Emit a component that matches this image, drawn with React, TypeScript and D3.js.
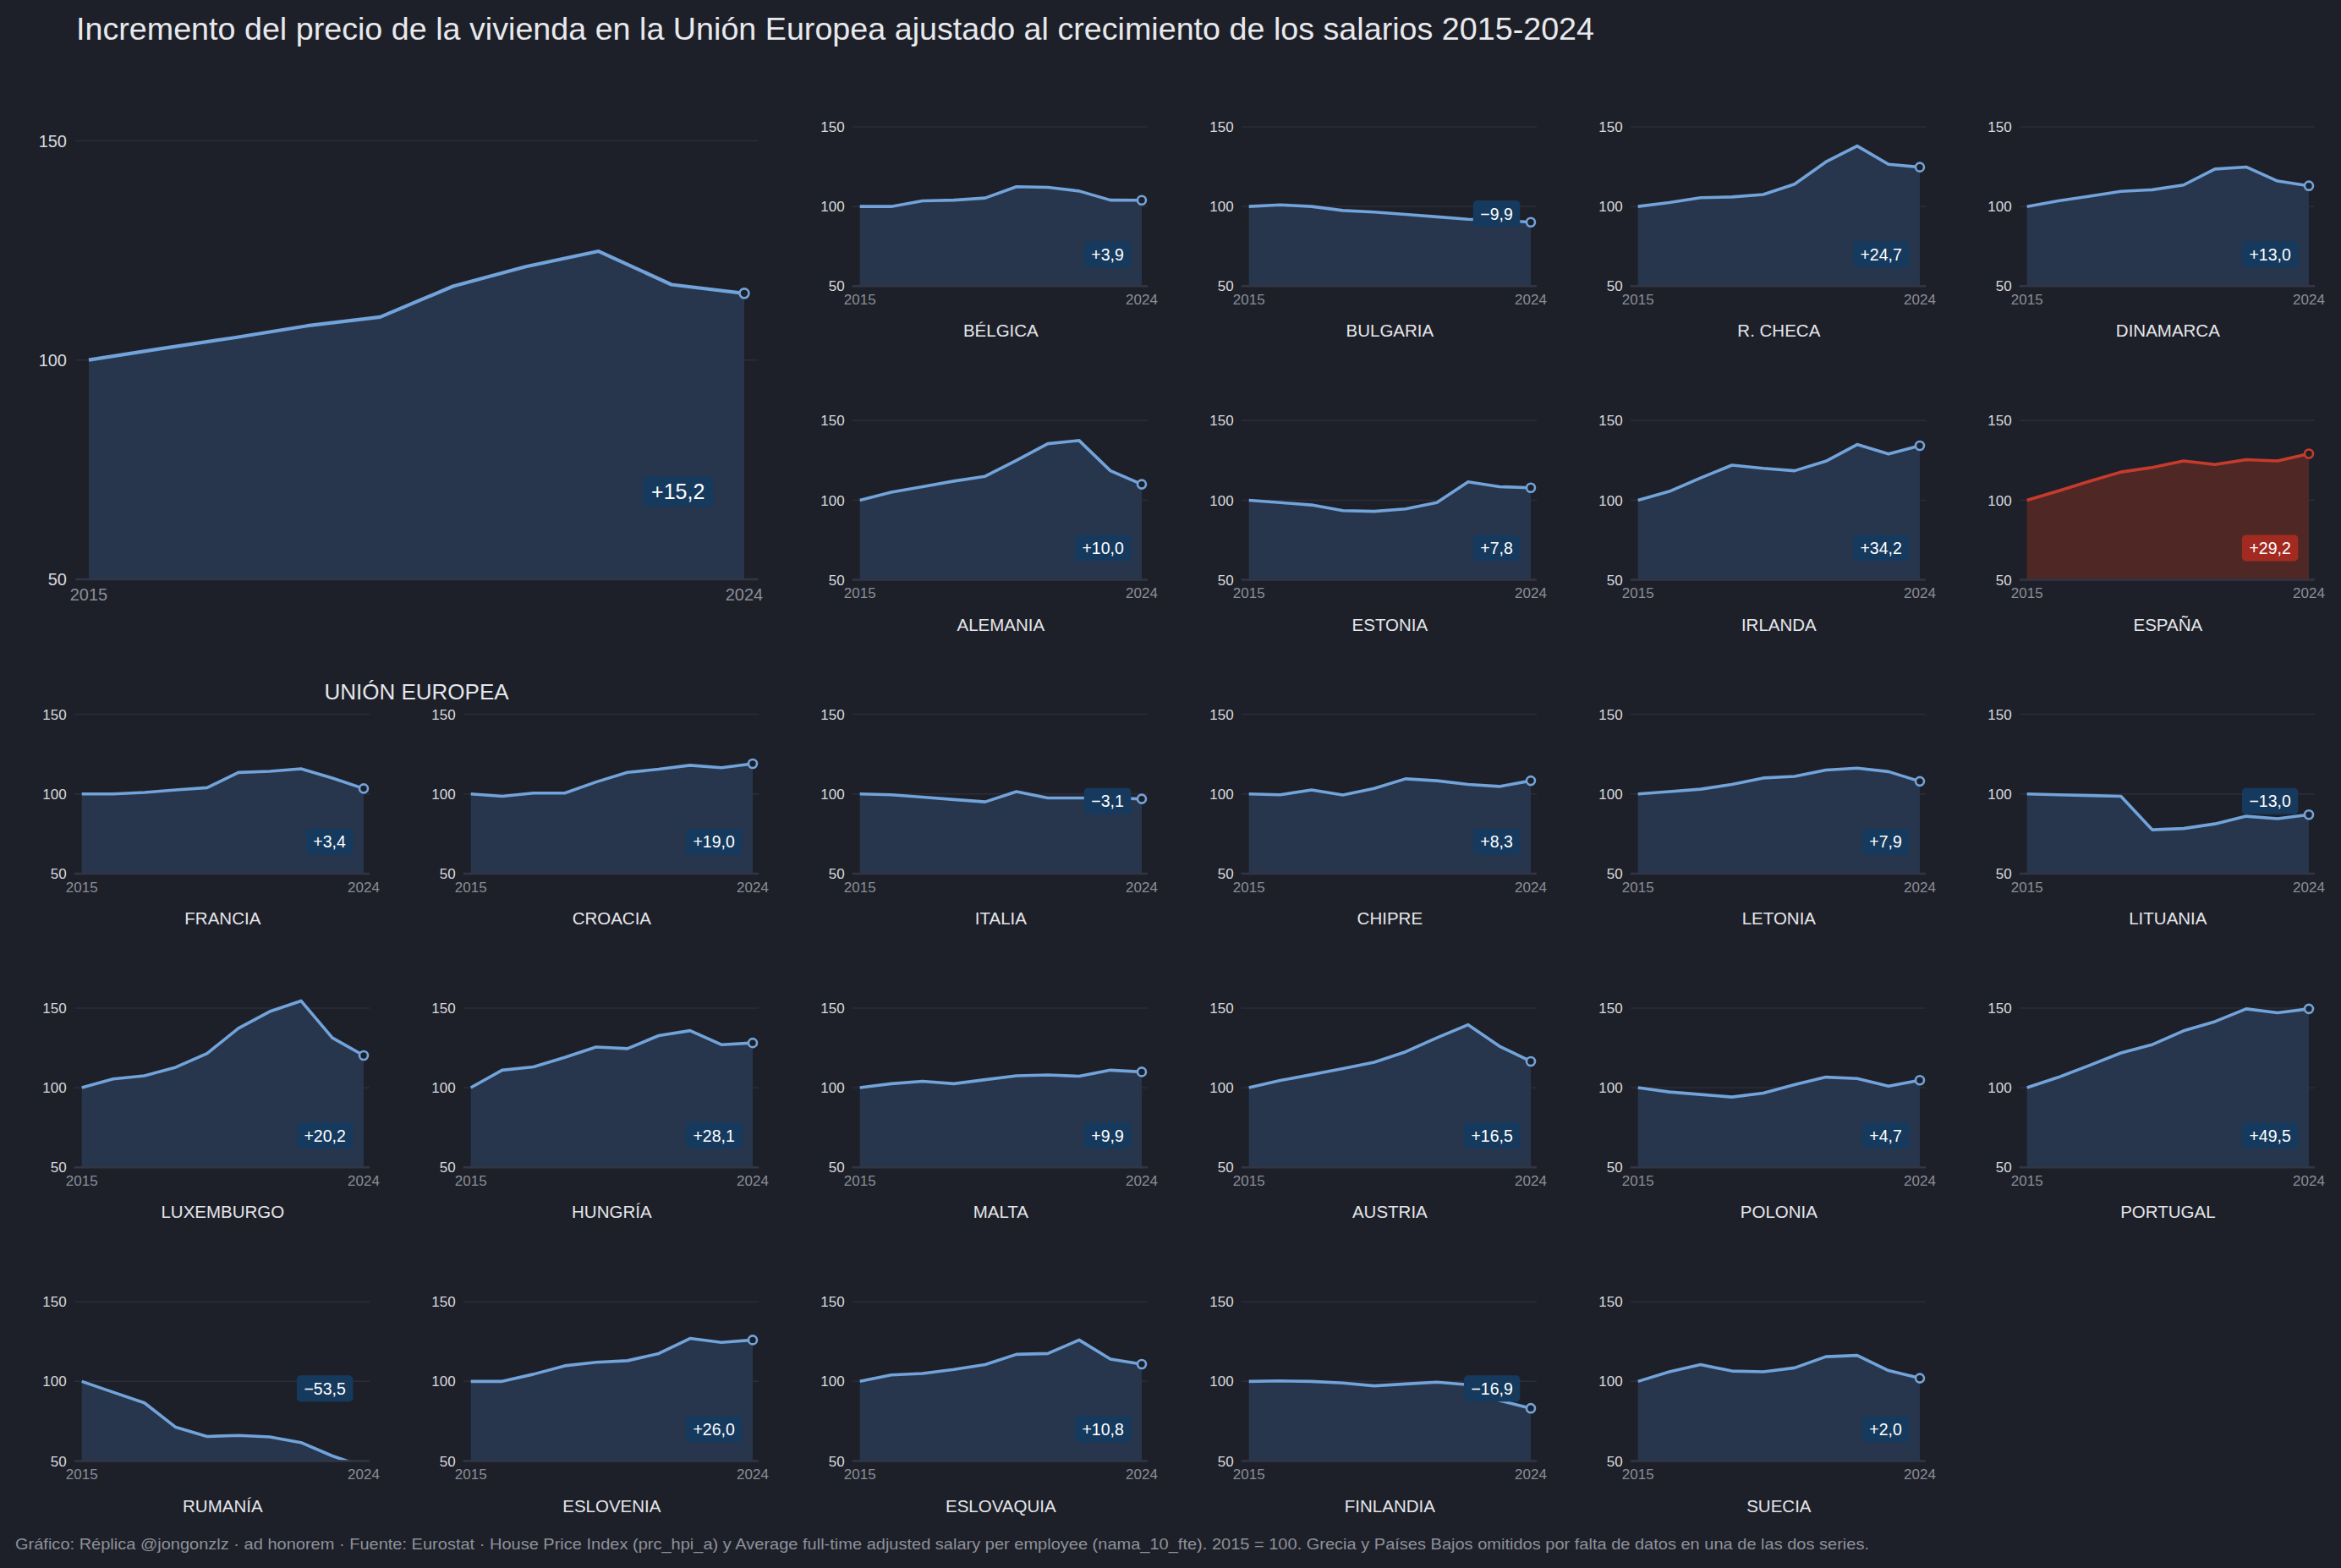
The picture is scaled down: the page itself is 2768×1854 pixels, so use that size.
import React, { useRef, useEffect } from 'react';
import * as d3 from 'd3';

// Chart values, 2015 = 100
const years = [2015, 2016, 2017, 2018, 2019, 2020, 2021, 2022, 2023, 2024];
const yTicks = [50, 100, 150];
const xTickYears = [2015, 2024];

const unionEuropea = [100, 102.6, 105.1, 107.8, 109.8, 116.8, 121.3, 124.8, 117.2, 115.2];

const belgica = [100, 100, 103.5, 104, 105.3, 112.4, 112, 109.7, 104, 103.9];
const bulgaria = [100, 101, 100, 97.5, 96.5, 95, 93.5, 92, 91.5, 90.1];
const rChecha = [100, 102.5, 105.5, 106, 107.5, 114, 128, 138, 126.5, 124.7];
const dinamarca = [100, 103.5, 106.5, 109.5, 110.5, 113.5, 123.5, 124.8, 116, 113.0];
const alemania = [100, 105, 108.5, 112, 115, 125, 135.5, 137.5, 118.5, 110.0];
const estonia = [100, 98.5, 97, 93.5, 93, 94.5, 98.5, 111.5, 108.5, 107.8];
const irlanda = [100, 105.5, 114, 122, 120, 118.5, 124.5, 135, 129, 134.2];
const espana = [100, 105.8, 111.9, 117.7, 120.6, 124.7, 122.4, 125.5, 124.7, 129.2];
const francia = [100, 100, 100.9, 102.5, 103.9, 113.5, 114.2, 115.8, 110, 103.4];
const croacia = [100, 98.5, 100.5, 100.5, 107.5, 113.5, 115.5, 118, 116.5, 119.0];
const italia = [100, 99.5, 98, 96.5, 95, 101.5, 97.5, 97.5, 97.5, 96.9];
const chipre = [100, 99.5, 102.5, 99.3, 103.5, 109.5, 108.3, 106, 104.7, 108.3];
const letonia = [100, 101.5, 103, 106, 110, 111, 115, 116.2, 114, 107.9];
const lituania = [100, 99.5, 99, 98.5, 77.5, 78.3, 81.2, 86, 84.5, 87.0];
const luxemburgo = [100, 105.5, 107.5, 112.8, 121.5, 137.3, 147.8, 154.5, 131.3, 120.2];
const hungria = [100, 111, 113, 119, 125.5, 124.5, 132.7, 135.8, 127, 128.1];
const malta = [100, 102.5, 104, 102.5, 105, 107.5, 108, 107.2, 111, 109.9];
const austria = [100, 104.5, 108.2, 112, 116, 122.5, 131.3, 139.5, 126, 116.5];
const polonia = [100, 97.3, 95.7, 94.1, 96.6, 101.9, 106.6, 105.7, 100.9, 104.7];
const portugal = [100, 106.5, 114, 121.8, 127, 135.7, 141.5, 149.5, 147, 149.5];
const rumania = [100, 93.2, 86.5, 71.2, 65.4, 66.1, 65.1, 61.6, 53.2, 46.5];
const eslovenia = [100, 100, 104.5, 109.8, 112, 113, 117.5, 127, 124.5, 126.0];
const eslovaquia = [100, 104, 105, 107.5, 110.5, 117, 117.5, 126, 114, 110.8];
const finlandia = [100, 100.3, 100, 99, 97.2, 98.4, 99.5, 97.9, 88, 83.1];
const suecia = [100, 106, 110.5, 106.5, 106, 108.5, 115.5, 116.3, 106.8, 102.0];

const countryNames = [
  'BÉLGICA', 'BULGARIA', 'R. CHECA', 'DINAMARCA',
  'ALEMANIA', 'ESTONIA', 'IRLANDA', 'ESPAÑA',
  'FRANCIA', 'CROACIA', 'ITALIA', 'CHIPRE', 'LETONIA', 'LITUANIA',
  'LUXEMBURGO', 'HUNGRÍA', 'MALTA', 'AUSTRIA', 'POLONIA', 'PORTUGAL',
  'RUMANÍA', 'ESLOVENIA', 'ESLOVAQUIA', 'FINLANDIA', 'SUECIA',
];
const countrySeries = [
  belgica, bulgaria, rChecha, dinamarca,
  alemania, estonia, irlanda, espana,
  francia, croacia, italia, chipre, letonia, lituania,
  luxemburgo, hungria, malta, austria, polonia, portugal,
  rumania, eslovenia, eslovaquia, finlandia, suecia,
];
const highlighted = 'ESPAÑA';

const title =
  'Incremento del precio de la vivienda en la Unión Europea ajustado al crecimiento de los salarios 2015-2024';
const euLabel = 'UNIÓN EUROPEA';
const footer =
  'Gráfico: Réplica @jongonzlz · ad honorem  ·  Fuente: Eurostat · House Price Index (prc_hpi_a) y Average full-time adjusted salary per employee (nama_10_fte). 2015 = 100. Grecia y Países Bajos omitidos por falta de datos en una de las dos series.';

// layout
const W = 2768;
const H = 1854;
const FONT = '"Liberation Sans", Arial, Helvetica, sans-serif';
const BG = '#1e2029';
const GRID = '#2a2d39';
const BASE = '#323644';
const BLUE = '#72a3da';
const BLUE_FILL = '#27364c';
const BLUE_BADGE = '#163a5e';
const RED = '#c83b2c';
const RED_FILL = '#4f2826';
const RED_BADGE = '#a32a20';

const COL_X0 = 96.7;
const COL_STEP = 460;
const ROW_TOP0 = 150;
const ROW_STEP = 347.3;
const PANEL_W = 333.3;
const PANEL_H = 188.3;

// grid slots for the small multiples (the EU chart takes the top-left 2x2 block)
const slots: [number, number][] = [];
for (let r = 0; r < 5; r++) {
  for (let c = 0; c < 6; c++) {
    if (r < 2 && c < 2) continue;
    slots.push([c, r]);
  }
}

const fmtDelta = (v: number) => {
  const d = v - 100;
  const s = Math.abs(d).toFixed(1).replace('.', ',');
  return (d >= 0 ? '+' : '\u2212') + s;
};

type PanelOpts = {
  id: string;
  x0: number;
  top: number;
  w: number;
  h: number;
  big: boolean;
  name?: string;
  red?: boolean;
};

const drawPanel = (
  svg: d3.Selection<SVGSVGElement, unknown, null, undefined>,
  values: number[],
  o: PanelOpts
) => {
  const x = d3.scaleLinear().domain([years[0], years[years.length - 1]]).range([o.x0, o.x0 + o.w]);
  const y = d3.scaleLinear().domain([50, 150]).range([o.top + o.h, o.top]);
  const data = years.map((yr, i) => ({ yr, v: values[i] }));
  const lineColor = o.red ? RED : BLUE;
  const fillColor = o.red ? RED_FILL : BLUE_FILL;
  const badgeColor = o.red ? RED_BADGE : BLUE_BADGE;
  const padL = o.big ? 16 : 9;
  const padR = o.big ? 16.5 : 7;
  const tickSize = o.big ? 20 : 17;

  const g = svg.append('g');

  // gridlines
  g.selectAll('line.grid')
    .data(yTicks.filter((t) => t > 50))
    .enter()
    .append('line')
    .attr('x1', o.x0 - padL)
    .attr('x2', o.x0 + o.w + padR)
    .attr('y1', (d) => y(d))
    .attr('y2', (d) => y(d))
    .attr('stroke', GRID)
    .attr('stroke-width', 1.5);

  const clipId = `clip-${o.id}`;
  svg
    .append('defs')
    .append('clipPath')
    .attr('id', clipId)
    .append('rect')
    .attr('x', o.x0 - 12)
    .attr('y', o.top - 20)
    .attr('width', o.w + 24)
    .attr('height', o.h + 20);

  const inner = g.append('g').attr('clip-path', `url(#${clipId})`);

  inner
    .append('path')
    .datum(data)
    .attr(
      'd',
      d3
        .area<{ yr: number; v: number }>()
        .x((d) => x(d.yr))
        .y0(y(50))
        .y1((d) => y(d.v))
    )
    .attr('fill', fillColor);

  // baseline (50)
  g.append('line')
    .attr('x1', o.x0 - padL)
    .attr('x2', o.x0 + o.w + padR)
    .attr('y1', y(50))
    .attr('y2', y(50))
    .attr('stroke', BASE)
    .attr('stroke-width', 2.5);

  inner
    .append('path')
    .datum(data)
    .attr(
      'd',
      d3
        .line<{ yr: number; v: number }>()
        .x((d) => x(d.yr))
        .y((d) => y(d.v))
    )
    .attr('fill', 'none')
    .attr('stroke', lineColor)
    .attr('stroke-width', o.big ? 4.2 : 3.6)
    .attr('stroke-linejoin', 'round');

  const last = data[data.length - 1];
  inner
    .append('circle')
    .attr('cx', x(last.yr))
    .attr('cy', y(last.v))
    .attr('r', o.big ? 5.5 : 5)
    .attr('fill', BG)
    .attr('stroke', lineColor)
    .attr('stroke-width', 2.6);

  // y tick labels
  g.selectAll('text.yt')
    .data(yTicks)
    .enter()
    .append('text')
    .attr('x', o.x0 - (o.big ? 26 : 18))
    .attr('y', (d) => y(d))
    .attr('dy', '0.36em')
    .attr('text-anchor', 'end')
    .attr('font-family', FONT)
    .attr('font-size', tickSize)
    .attr('fill', '#d8dadf')
    .text((d) => String(d));

  // x tick labels
  g.selectAll('text.xt')
    .data(xTickYears)
    .enter()
    .append('text')
    .attr('x', (d) => x(d))
    .attr('y', y(50) + (o.big ? 25 : 21.7))
    .attr('text-anchor', 'middle')
    .attr('font-family', FONT)
    .attr('font-size', tickSize)
    .attr('fill', '#8a8e97')
    .text((d) => String(d));

  if (o.name) {
    g.append('text')
      .attr('x', o.x0 + o.w / 2)
      .attr('y', y(50) + 60)
      .attr('text-anchor', 'middle')
      .attr('font-family', FONT)
      .attr('font-size', 20.5)
      .attr('fill', '#e4e6ea')
      .text(o.name);
  }

  // badge with the change
  const delta = last.v - 100;
  const badgeFont = o.big ? 25 : 19.5;
  const badgeH = o.big ? 36 : 31;
  const padX = o.big ? 10 : 8.5;
  const right = o.x0 + o.w - (o.big ? 36.7 : 12.7);
  const cy = y(delta >= 0 ? 70 : 95.5);
  const bg = g.append('rect').attr('rx', 4.5).attr('fill', badgeColor);
  const txt = g
    .append('text')
    .attr('y', cy)
    .attr('dy', '0.36em')
    .attr('text-anchor', 'middle')
    .attr('font-family', FONT)
    .attr('font-size', badgeFont)
    .attr('fill', '#ffffff')
    .text(fmtDelta(last.v));
  const tw = (txt.node() as SVGTextElement).getComputedTextLength();
  const bw = tw + padX * 2;
  bg.attr('x', right - bw).attr('y', cy - badgeH / 2).attr('width', bw).attr('height', badgeH);
  txt.attr('x', right - bw / 2);
};

const App = () => {
  const ref = useRef<SVGSVGElement | null>(null);

  useEffect(() => {
    document.body.style.margin = '0';
    document.body.style.background = BG;
    if (!ref.current) return;
    const svg = d3.select(ref.current);
    svg.selectAll('*').remove();

    svg.append('rect').attr('width', W).attr('height', H).attr('fill', BG);

    svg
      .append('text')
      .attr('x', 90)
      .attr('y', 47)
      .attr('font-family', FONT)
      .attr('font-size', 36)
      .attr('fill', '#e8e9ec')
      .attr('textLength', 1795)
      .attr('lengthAdjust', 'spacingAndGlyphs')
      .text(title);

    // big EU chart
    drawPanel(svg, unionEuropea, {
      id: 'eu',
      x0: 105,
      top: 166.4,
      w: 775,
      h: 518.5,
      big: true,
    });
    svg
      .append('text')
      .attr('x', 492.5)
      .attr('y', 827)
      .attr('text-anchor', 'middle')
      .attr('font-family', FONT)
      .attr('font-size', 26)
      .attr('fill', '#e4e6ea')
      .text(euLabel);

    countryNames.forEach((name, i) => {
      const [c, r] = slots[i];
      drawPanel(svg, countrySeries[i], {
        id: `p${i}`,
        x0: COL_X0 + c * COL_STEP,
        top: ROW_TOP0 + r * ROW_STEP,
        w: PANEL_W,
        h: PANEL_H,
        big: false,
        name,
        red: name === highlighted,
      });
    });

    svg
      .append('text')
      .attr('x', 18)
      .attr('y', 1832)
      .attr('font-family', FONT)
      .attr('font-size', 19)
      .attr('fill', '#8d919a')
      .attr('textLength', 2192)
      .attr('lengthAdjust', 'spacingAndGlyphs')
      .text(footer);
  }, []);

  return <svg ref={ref} width={W} height={H} style={{ display: 'block' }} />;
};

export default App;
